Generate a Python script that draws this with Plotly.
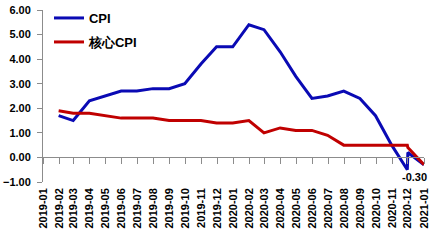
import plotly.graph_objects as go

# Month labels on the date axis
tick_dates = ["2019-01-01", "2019-02-01", "2019-03-01", "2019-04-01", "2019-05-01",
              "2019-06-01", "2019-07-01", "2019-08-01", "2019-09-01", "2019-10-01",
              "2019-11-01", "2019-12-01", "2020-01-01", "2020-02-01", "2020-03-01",
              "2020-04-01", "2020-05-01", "2020-06-01", "2020-07-01", "2020-08-01",
              "2020-09-01", "2020-10-01", "2020-11-01", "2020-12-01", "2021-01-01"]
tick_labels = ["2019-01", "2019-02", "2019-03", "2019-04", "2019-05", "2019-06",
               "2019-07", "2019-08", "2019-09", "2019-10", "2019-11", "2019-12",
               "2020-01", "2020-02", "2020-03", "2020-04", "2020-05", "2020-06",
               "2020-07", "2020-08", "2020-09", "2020-10", "2020-11", "2020-12",
               "2021-01"]

# Observation dates as stored in the source sheet (month-end, last two month-start)
obs_dates = ["2019-01-31", "2019-02-28", "2019-03-31", "2019-04-30", "2019-05-31",
             "2019-06-30", "2019-07-31", "2019-08-31", "2019-09-30", "2019-10-31",
             "2019-11-30", "2019-12-31", "2020-01-31", "2020-02-29", "2020-03-31",
             "2020-04-30", "2020-05-31", "2020-06-30", "2020-07-31", "2020-08-31",
             "2020-09-30", "2020-10-31", "2020-11-30", "2020-12-01", "2021-01-01"]

cpi = [1.7, 1.5, 2.3, 2.5, 2.7, 2.7, 2.8, 2.8, 3.0, 3.8, 4.5, 4.5, 5.4, 5.2, 4.3,
       3.3, 2.4, 2.5, 2.7, 2.4, 1.7, 0.5, -0.5, 0.2, -0.3]
core_cpi = [1.9, 1.8, 1.8, 1.7, 1.6, 1.6, 1.6, 1.5, 1.5, 1.5, 1.4, 1.4, 1.5, 1.0, 1.2,
            1.1, 1.1, 0.9, 0.5, 0.5, 0.5, 0.5, 0.5, 0.4, -0.3]

FONT = "Arial, Liberation Sans, sans-serif"
AXIS_GRAY = "#8c8c8c"
W, H = 440, 243
M_L, M_R, M_B = 43, 16, 61
PLOT_TOP = 10                      # pixel row of the 6.00 gridline
paper_h = H - M_B                  # paper area spans from page top
y_dom_top = (paper_h - PLOT_TOP) / paper_h

fig = go.Figure()
fig.add_trace(go.Scatter(x=obs_dates, y=cpi, mode="lines", name="<b>CPI</b>",
                         line=dict(color="#0a0ab4", width=3), legend="legend"))
fig.add_trace(go.Scatter(x=obs_dates, y=core_cpi, mode="lines", name="<b>核心CPI</b>",
                         line=dict(color="#c00000", width=3), legend="legend2"))
# invisible helper trace so the zero-line axis with ticks is drawn
fig.add_trace(go.Scatter(x=obs_dates, y=cpi, mode="lines", xaxis="x2",
                         line=dict(width=0), opacity=0, showlegend=False,
                         hoverinfo="skip"))

fig.add_annotation(x=obs_dates[-1], y=cpi[-1], text="<b>-0.30</b>", showarrow=False,
                   xshift=-10, yshift=-12,
                   font=dict(family=FONT, size=11, color="#000000"))

ymin, ymax = -1, 6
fig.update_layout(
    width=W, height=H,
    margin=dict(l=M_L, r=M_R, t=0, b=M_B, autoexpand=False),
    paper_bgcolor="white", plot_bgcolor="white",
    font=dict(family=FONT, size=11, color="#000000"),
    xaxis=dict(range=[tick_dates[0], tick_dates[-1]], tickmode="array",
               tickvals=tick_dates, ticktext=["<b>%s</b>" % t for t in tick_labels],
               tickangle=-90, automargin=False,
               showline=False, ticks="", showgrid=False, zeroline=False,
               ticklabelstandoff=3, tickfont=dict(size=11)),
    xaxis2=dict(matches="x", overlaying="x", anchor="free",
                position=(0 - ymin) / (ymax - ymin) * y_dom_top, side="bottom",
                tickmode="array", tickvals=tick_dates, showticklabels=False,
                ticks="outside", ticklen=6, tickcolor=AXIS_GRAY, tickwidth=1,
                showline=True, linecolor=AXIS_GRAY, linewidth=1, automargin=False,
                showgrid=False, zeroline=False),
    yaxis=dict(range=[ymin, ymax], dtick=1, tickformat=".2f",
               domain=[0, y_dom_top], automargin=False,
               showline=True, linecolor=AXIS_GRAY, linewidth=1,
               ticks="outside", ticklen=5, tickcolor=AXIS_GRAY,
               showgrid=False, zeroline=False, ticklabelstandoff=4,
               tickprefix="<b>", ticksuffix="</b>",
               tickfont=dict(size=11)),
    legend=dict(x=0.0157, y=1 - 3 / paper_h, xanchor="left", yanchor="top",
                bgcolor="rgba(0,0,0,0)", font=dict(size=13, family=FONT)),
    legend2=dict(x=0.0157, y=1 - 27 / paper_h, xanchor="left", yanchor="top",
                 bgcolor="rgba(0,0,0,0)", font=dict(size=13, family=FONT)),
)

fig.write_html("out.html")
